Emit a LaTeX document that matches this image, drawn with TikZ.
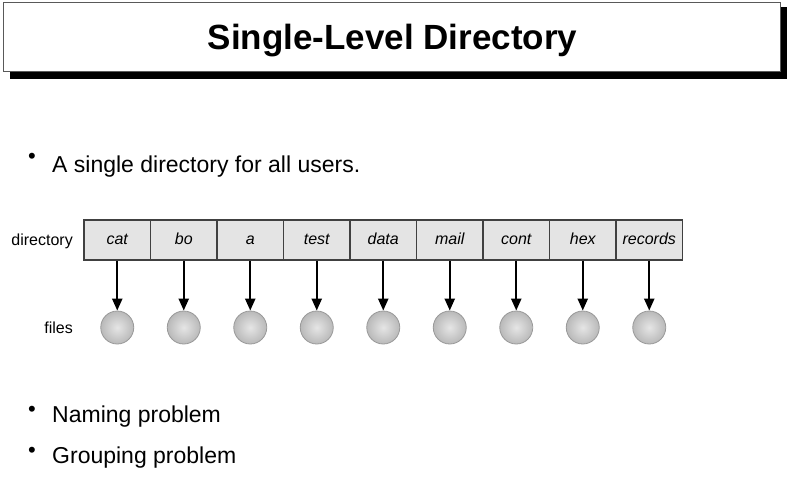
\documentclass[tikz,border=0pt]{standalone}
\usepackage{fontspec}
\setmainfont{Liberation Sans}
\usetikzlibrary{arrows.meta}
\definecolor{cellfill}{HTML}{E4E4E4}
\definecolor{cellline}{HTML}{404040}
\tikzset{
  cell/.style={draw=cellline, line width=1.3pt, fill=cellfill, minimum width=66.5pt, minimum height=40pt, inner sep=0pt, text height=11.5pt, text depth=3.5pt, font=\fontsize{16}{19}\selectfont\itshape},
  filenode/.style={circle, draw=gray!80, line width=0.8pt, inner color=gray!20, outer color=gray!55, minimum size=33pt, inner sep=0pt},
  ptr/.style={line width=2.2pt, -{Triangle[length=12pt,width=10pt]}},
  bullettext/.style={anchor=base west, inner sep=0pt, font=\fontsize{23}{27}\selectfont},
  bulletdot/.style={inner sep=0pt, font=\fontsize{22}{26}\selectfont},
  sidelabel/.style={anchor=base east, inner sep=0pt, font=\fontsize{16}{19}\selectfont}
}
\begin{document}
\begin{tikzpicture}[x=1pt,y=-1pt]
\useasboundingbox (0,0) rectangle (789,492);
\fill[white] (0,0) rectangle (789,492);
% title box with shadow
\fill[black] (10,7) rectangle (787,79);
\node[draw=gray!70!black, line width=1pt, fill=white, minimum width=777pt, minimum height=69pt, inner sep=0pt, anchor=north west] (titlebox) at (2.7,1.7) {};
\node[anchor=base, inner sep=0pt, font=\fontsize{35}{40}\selectfont\bfseries] (title) at (392.5,50) {Single-Level Directory};
% bullets
\node[bulletdot] (b1) at (32,158) {\textbullet};
\node[bullettext] (t1) at (52,172) {A single directory for all users.};
\node[bulletdot] (b2) at (32,411) {\textbullet};
\node[bullettext] (t2) at (52,422) {Naming problem};
\node[bulletdot] (b3) at (32,452) {\textbullet};
\node[bullettext] (t3) at (52,463) {Grouping problem};
% labels
\node[sidelabel] (dirlabel) at (73,245) {directory};
\node[sidelabel] (fileslabel) at (73,333) {files};
% directory cells and files
\foreach \name [count=\i from 0] in {cat,bo,a,test,data,mail,cont,hex,records} {
  \node[cell] (c\i) at ({117.25+66.5*\i},240) {\name};
  \node[filenode] (f\i) at ({117.25+66.5*\i},327.5) {};
  \draw[ptr] (c\i.south) -- (f\i.north);
}
\end{tikzpicture}
\end{document}
